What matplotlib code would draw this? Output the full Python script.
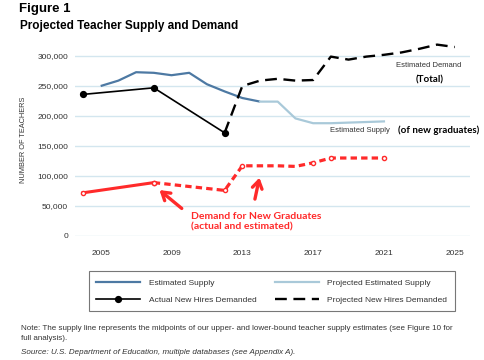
import matplotlib
matplotlib.use("Agg")
import matplotlib.pyplot as plt
from matplotlib.lines import Line2D

# ---- data (thousands of teachers) ----
supply_years = [2005, 2006, 2007, 2008, 2009, 2010, 2011, 2012, 2013, 2014]
supply_vals = [250, 259, 273, 272, 268, 272, 253, 241, 230, 224]

proj_supply_years = [2014, 2015, 2016, 2017, 2018, 2019, 2020, 2021]
proj_supply_vals = [224, 224, 196, 188, 188, 189, 190, 191]

actual_years = [2004, 2008, 2012]
actual_vals = [236, 247, 172]

proj_hires_years = [2012, 2013, 2014, 2015, 2016, 2017, 2018, 2019, 2020, 2021, 2022, 2023, 2024, 2025]
proj_hires_vals = [172, 250, 259, 262, 259, 260, 299, 294, 299, 302, 306, 312, 319, 315]

grad_actual_years = [2004, 2008]
grad_actual_vals = [72, 89]
grad_est_years = [2008, 2012, 2013, 2014, 2015, 2016, 2017, 2018, 2019, 2020, 2021]
grad_est_vals = [89, 76, 117, 117, 117, 116, 122, 130, 130, 130, 130]
grad_marker_idx = [0, 1, 2, 6, 7, 10]

x_ticks = [2005, 2009, 2013, 2017, 2021, 2025]
y_ticks = [0, 50, 100, 150, 200, 250, 300]
y_tick_labels = ["0", "50,000", "100,000", "150,000", "200,000", "250,000", "300,000"]

C_SUP = "#4d79a3"
C_PSUP = "#a9c9d9"
C_GRID = "#d3e6ef"
C_RED = "#ff2a2a"
C_TXT = "#333333"

plt.rcParams['font.family'] = ['Liberation Sans', 'DejaVu Sans']

fig = plt.figure(figsize=(4.85, 3.6), dpi=100)
ax = fig.add_axes([75 / 485, 1 - 236 / 360, 395 / 485, 196 / 360])
ax.set_xlim(2003.55, 2025.86)
ax.set_ylim(0, 326.7)

for s in ax.spines.values():
    s.set_visible(False)
ax.set_yticks(y_ticks)
ax.set_yticklabels(y_tick_labels)
ax.set_xticks(x_ticks)
ax.set_xticklabels([str(t) for t in x_ticks])
ax.tick_params(length=0, labelsize=6, colors=C_TXT)
ax.tick_params(axis='x', pad=10)
ax.tick_params(axis='y', pad=5)
ax.grid(axis='y', color=C_GRID, lw=1.0)
ax.set_axisbelow(True)

ax.plot(supply_years, supply_vals, color=C_SUP, lw=1.6, solid_capstyle='butt')
ax.plot(proj_supply_years, proj_supply_vals, color=C_PSUP, lw=1.6)
ax.plot(actual_years, actual_vals, color='black', lw=1.2, marker='o', ms=4.2)
ax.plot(proj_hires_years, proj_hires_vals, color='black', lw=1.7, dashes=(5, 2.8))

# red overlay: demand for new graduates
ax.plot(grad_actual_years, grad_actual_vals, color=C_RED, lw=2.2, marker='o', ms=3.0,
        mfc='white', mec=C_RED, mew=1.0)
ax.plot(grad_est_years, grad_est_vals, color=C_RED, lw=2.3, dashes=(2.0, 1.3),
        marker='o', ms=3.0, mfc='white', mec=C_RED, mew=1.0, markevery=grad_marker_idx)

arrow_kw = dict(arrowstyle='->,head_length=0.55,head_width=0.35', color=C_RED, lw=2.4)
ax.annotate('', xy=(2008.2, 79.5), xytext=(2009.7, 43), arrowprops=arrow_kw)
ax.annotate('', xy=(2014.0, 101.7), xytext=(2013.68, 57), arrowprops=arrow_kw)
ax.text(2010.1, 24, "Demand for New Graduates\n(actual and estimated)", color=C_RED,
        fontsize=7.5, fontweight='bold', family=['Lato', 'DejaVu Sans'],
        ha='left', va='center', linespacing=1.25)

ax.text(2023.55, 285, "Estimated Demand", fontsize=5.5, color=C_TXT, ha='center', va='center')
ax.text(2023.6, 260, "(Total)", fontsize=7, fontweight='bold', family=['Lato', 'DejaVu Sans'],
        ha='center', va='center', color='black')
ax.text(2019.65, 175.5, "Estimated Supply", fontsize=5.5, color=C_TXT, ha='center', va='center')
ax.text(2024.1, 175.5, "(of new graduates)", fontsize=7, fontweight='bold',
        family=['Lato', 'DejaVu Sans'], ha='center', va='center', color='black')

fig.text(24 / 485, 1 - 140 / 360, "NUMBER OF TEACHERS", rotation=90, fontsize=5.3,
         color=C_TXT, ha='center', va='center')

fig.text(19 / 485, 1 - 9 / 360, "Figure 1", fontsize=9.5, fontweight='bold', ha='left', va='center')
fig.text(20 / 485, 1 - 26 / 360, "Projected Teacher Supply and Demand", fontsize=8.5,
         fontweight='bold', ha='left', va='center')

handles = [
    Line2D([], [], color=C_SUP, lw=1.6),
    Line2D([], [], color='black', lw=1.2, marker='o', ms=4.2),
    Line2D([], [], color=C_PSUP, lw=1.6),
    Line2D([], [], color='black', lw=1.7, dashes=(5, 2.8)),
]
labels = ["Estimated Supply", "Actual New Hires Demanded",
          "Projected Estimated Supply", "Projected New Hires Demanded"]
leg = fig.legend(handles, labels, ncol=2, loc='center', bbox_to_anchor=(271.7 / 485, 1 - 291.4 / 360),
                 fontsize=6, frameon=True, fancybox=False, handlelength=5.3, handletextpad=1.0,
                 columnspacing=2.2, borderpad=0.9, labelspacing=1.1)
leg.get_frame().set_edgecolor('#555555')
leg.get_frame().set_linewidth(0.8)
for t in leg.get_texts():
    t.set_color(C_TXT)

note_fs = 5.8
fig.text(21 / 485, 1 - 328 / 360,
         "Note: The supply line represents the midpoints of our upper- and lower-bound teacher supply estimates (see Figure 10 for",
         fontsize=note_fs, color=C_TXT, ha='left', va='center')
fig.text(21 / 485, 1 - 339 / 360, "full analysis).", fontsize=note_fs, color=C_TXT, ha='left', va='center')
fig.text(21 / 485, 1 - 352 / 360,
         "Source: U.S. Department of Education, multiple databases (see Appendix A).",
         fontsize=note_fs, color=C_TXT, ha='left', va='center', style='italic')

fig.savefig("out.png", dpi=100)
